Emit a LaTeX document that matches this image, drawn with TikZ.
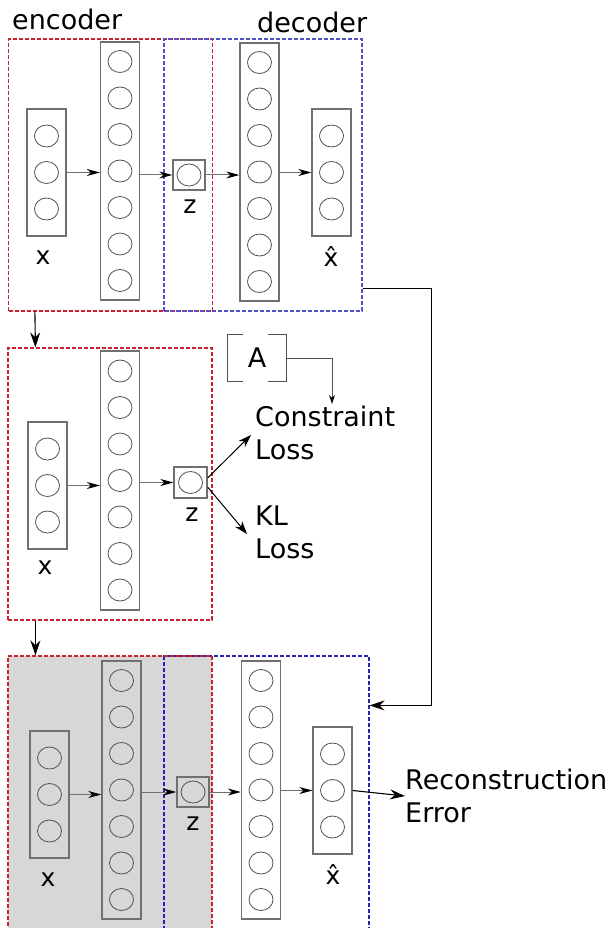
\documentclass[tikz,border=0pt]{standalone}
\usepackage{fontspec}
\setmainfont{DejaVu Sans}
\usetikzlibrary{arrows.meta,positioning,calc,shapes.geometric}
\definecolor{vaered}{HTML}{CC2030}
\definecolor{vaeblue}{HTML}{5252C4}
\definecolor{vaenavy}{HTML}{2424B4}
\definecolor{vaegray}{HTML}{D7D7D7}
\definecolor{vaeline}{HTML}{707070}
\definecolor{vaeunit}{HTML}{505050}
\tikzset{
  encBox/.style={draw=vaered, dash pattern=on 4pt off 2pt, line width=1.2pt, inner sep=0pt, minimum width=204pt, minimum height=272pt},
  decBox/.style={draw=vaeblue, dash pattern=on 4pt off 2pt, line width=1.2pt, inner sep=0pt, minimum width=198pt, minimum height=272pt},
  layerBox/.style={draw=vaeline, line width=1.3pt, inner sep=0pt, minimum width=39pt},
  latentBox/.style={draw=vaeline, line width=1.3pt, inner sep=0pt, minimum width=32pt, minimum height=30pt},
  unitNode/.style={ellipse, draw=vaeunit, line width=0.8pt, inner sep=0pt, minimum width=24pt, minimum height=22pt},
  textLabel/.style={font=\fontsize{27}{33}\selectfont, inner sep=0pt},
  varLabel/.style={font=\fontsize{25}{30}\selectfont, inner sep=0pt, anchor=base},
  layerArrow/.style={-{Stealth[length=13pt,width=7pt,inset=4pt,black]}, draw=vaeline, line width=1pt},
  flowArrow/.style={-{Stealth[length=15pt,width=10pt,inset=5pt]}, draw=black, line width=1.1pt},
  lossArrow/.style={-{Stealth[length=13pt,width=9pt,inset=4pt]}, draw=black, line width=1pt},
  thinArrow/.style={-{Stealth[length=9pt,width=6pt,black]}, draw=vaeunit, line width=0.9pt}
}
\begin{document}
\begin{tikzpicture}[x=1pt, y=-1pt]
  \useasboundingbox (0,0) rectangle (609,928);
  \clip (0,0) rectangle (609,928);

  % panel boxes
  \node[encBox] (enc1) at (110.5,175) {};
  \node[decBox] (dec1) at (263,175) {};
  \node[encBox] (enc2) at (110,484) {};
  \node[encBox, fill=vaegray, minimum height=280pt] (enc3) at (110,796) {};
  \node[decBox, draw=vaenavy, minimum width=205pt, minimum height=280pt] (dec3) at (266.5,796) {};
  \node[encBox, minimum height=280pt] at (110,796) {};

  \node[textLabel, anchor=base west] (enclabel) at (12,30) {encoder};
  \node[textLabel, anchor=base west] (declabel) at (257,33) {decoder};

  % layers
  \foreach \nm/\cx/\cy/\h/\n in {in1/46.5/172.5/127/1, hid1/120/171/258/3, dh1/259.5/172/258/3, out1/331.5/172.5/127/1,
                                 in2/47.5/485.5/127/1, hid2/120/480.5/259/3,
                                 in3/49.5/794.5/127/1, hid3/121.5/790/258/3, dh3/261/790/258/3, out3/332.5/790.5/127/1} {
    \node[layerBox, minimum height=\h pt] (\nm) at (\cx,\cy) {};
    \foreach \i in {-\n,...,\n}
      \node[unitNode] (\nm-u\i) at ({\cx},{\cy+36.5*\i}) {};
  }
  \node[latentBox] (z1) at (189,175) {};
  \node[latentBox, minimum width=33pt, minimum height=31pt] (z2) at (190.5,482.5) {};
  \node[latentBox] (z3) at (193,792) {};
  \foreach \nm in {z1,z2,z3}
    \node[unitNode] (\nm-u) at (\nm) {};

  % variable names
  \node[varLabel] (xl1) at (43,264) {x};
  \node[varLabel] (zl1) at (190,213) {z};
  \node[varLabel] (yl1) at (331,266) {\^{x}};
  \node[varLabel] (xl2) at (45,574) {x};
  \node[varLabel] (zl2) at (192,521) {z};
  \node[varLabel] (xl3) at (48,886) {x};
  \node[varLabel] (zl3) at (193,830) {z};
  \node[varLabel] (yl3) at (333,884) {\^{x}};

  % losses
  \node[textLabel, align=left, anchor=west] (closs) at (255,433) {Constraint\\Loss};
  \node[textLabel, align=left, anchor=west] (klloss) at (255,532) {KL\\Loss};
  \node[textLabel, align=left, anchor=west] (recerr) at (405,796) {Reconstruction\\Error};
  \node[textLabel, minimum width=58pt, minimum height=46pt] (amat) at (257,358) {A};
  \draw[vaeunit, line width=1.2pt] ($(amat.north west)+(15,0)$) -- (amat.north west) -- (amat.south west) -- ++(15,0);
  \draw[vaeunit, line width=1.2pt] ($(amat.north east)+(-18,0)$) -- (amat.north east) -- (amat.south east) -- ++(-18,0);

  % arrows inside the networks
  \draw[layerArrow] (in1.east) -- (in1.east -| hid1.west);
  \draw[layerArrow] (z1.west -| hid1.east) -- (z1.west);
  \draw[layerArrow] (z1.east) -- (z1.east -| dh1.west);
  \draw[layerArrow] (out1.west -| dh1.east) -- (out1.west);
  \draw[layerArrow] (in2.east) -- (in2.east -| hid2.west);
  \draw[layerArrow] (z2.west -| hid2.east) -- (z2.west);
  \draw[layerArrow] (in3.east) -- (in3.east -| hid3.west);
  \draw[layerArrow] (z3.west -| hid3.east) -- (z3.west);
  \draw[layerArrow] (z3.east) -- (z3.east -| dh3.west);
  \draw[layerArrow] (out3.west -| dh3.east) -- (out3.west);

  % arrows between the stages
  \draw[flowArrow] ($(enc1.south west)+(27,0)$) -- ($(enc2.north west)+(28,0)$);
  \draw[flowArrow] ($(enc2.south west)+(28,0)$) -- ($(enc3.north west)+(28,0)$);
  \draw[flowArrow] ($(dec1.south east)+(0,-23)$) -- ++(69,0) |- ($(dec3.north east)+(0,50)$);
  \draw[lossArrow] (z2.15) -- ($(closs.west)+(-4,2)$);
  \draw[lossArrow] (z2.-15) -- ($(klloss.west)+(-8,2)$);
  \draw[thinArrow] (amat.east) -| ($(closs.north west)+(77,-2)$);
  \draw[flowArrow] (out3.east) -- (recerr.west);
\end{tikzpicture}
\end{document}
